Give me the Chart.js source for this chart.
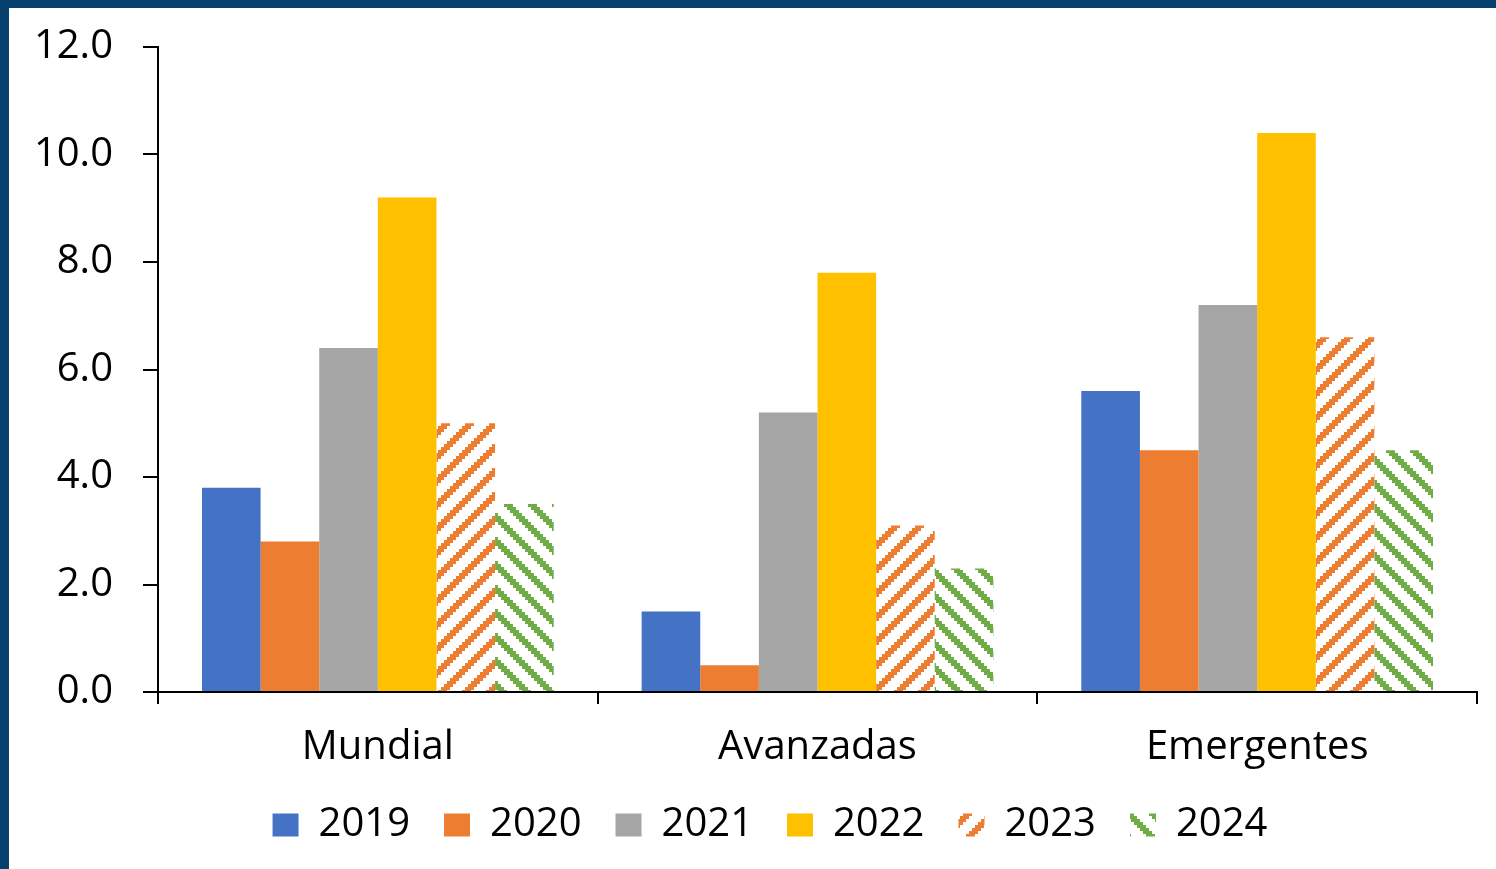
<!DOCTYPE html>
<html>
<head>
<meta charset="utf-8">
<script src="https://cdn.jsdelivr.net/npm/chart.js@4.4.1/dist/chart.umd.min.js"></script>
<style>
    html, body { margin: 0; padding: 0; background: #fff; }
    #wrap { position: relative; width: 1496px; height: 869px; overflow: hidden; }
    #grafico { position: absolute; left: 0; top: 0; }
    .borde { position: absolute; background: #073f6d; }
</style>
</head>
<body>
<div id="wrap">
    <canvas id="grafico" width="1496" height="869"></canvas>
    <div class="borde" style="left:0;top:0;width:1496px;height:8px;"></div>
    <div class="borde" style="left:0;top:0;width:9px;height:869px;"></div>
</div>
<script>
/* =========================================
   DATOS
   ========================================= */
const categorias = ['Mundial', 'Avanzadas', 'Emergentes'];
const anios = ['2019', '2020', '2021', '2022', '2023', '2024'];
const valores2019 = [3.8, 1.5, 5.6];
const valores2020 = [2.8, 0.5, 4.5];
const valores2021 = [6.4, 5.2, 7.2];
const valores2022 = [9.2, 7.8, 10.4];
const valores2023 = [5.0, 3.1, 6.6];
const valores2024 = [3.5, 2.3, 4.5];
const ticksY = [0, 2, 4, 6, 8, 10, 12];

/* =========================================
   TRAMAS (rayado diagonal tipo Excel)
   ========================================= */
function crearTrama(color, sentido) {
    const c = document.createElement('canvas');
    const celda = 3, n = 8;
    c.width = c.height = celda * n;
    const ctx = c.getContext('2d');
    ctx.fillStyle = color;
    for (let i = 0; i < n; i++) {
        for (let j = 0; j < n; j++) {
            const k = sentido === 'sube' ? (i + j) % n : ((i - j) % n + n) % n;
            if (k < 3) ctx.fillRect(i * celda, j * celda, celda, celda);
        }
    }
    return ctx.createPattern(c, 'repeat');
}

const tramaNaranja = crearTrama('#ED7D31', 'sube');
const tramaVerde = crearTrama('#70AD47', 'baja');

/* =========================================
   GRÁFICO
   ========================================= */
const series = [valores2019, valores2020, valores2021, valores2022, valores2023, valores2024];
const colores = ['#4472C4', '#ED7D31', '#A5A5A5', '#FFC000', tramaNaranja, tramaVerde];

const fuente = { family: '"Open Sans", sans-serif', size: 40 };

// la leyenda va centrada un poco a la derecha del lienzo
const moverLeyenda = {
    id: 'moverLeyenda',
    afterLayout(chart) { chart.legend.left += 63; }
};

new Chart(document.getElementById('grafico'), {
    type: 'bar',
    data: {
        labels: categorias,
        datasets: anios.map((a, i) => ({
            label: a,
            data: series[i],
            backgroundColor: colores[i],
            borderWidth: 0,
            categoryPercentage: 0.8,
            barPercentage: 1.0
        }))
    },
    options: {
        responsive: false,
        animation: false,
        layout: { padding: { top: 47, right: 19, left: 0, bottom: 14 } },
        plugins: {
            tooltip: { enabled: false },
            legend: {
                position: 'bottom',
                labels: {
                    color: '#000',
                    font: fuente,
                    boxWidth: 26,
                    boxHeight: 23,
                    padding: 34
                }
            }
        },
        scales: {
            x: {
                offset: true,
                grid: { offset: true, drawOnChartArea: false, color: '#000', lineWidth: 2, tickLength: 12 },
                border: { color: '#000', width: 2 },
                ticks: { color: '#000', font: fuente, padding: 20, maxRotation: 0 },
                afterFit: s => { s.height = 79; }
            },
            y: {
                min: 0,
                max: 12,
                afterBuildTicks: s => { s.ticks = ticksY.map(v => ({ value: v })); },
                grid: { drawOnChartArea: false, color: '#000', lineWidth: 2, tickLength: 15 },
                border: { color: '#000', width: 2 },
                ticks: { color: '#000', font: fuente, padding: 30, callback: v => v.toFixed(1) },
                afterFit: s => { s.width = 158; s.paddingTop = 0; s.paddingBottom = 0; }
            }
        }
    },
    plugins: [moverLeyenda]
});
</script>
</body>
</html>
